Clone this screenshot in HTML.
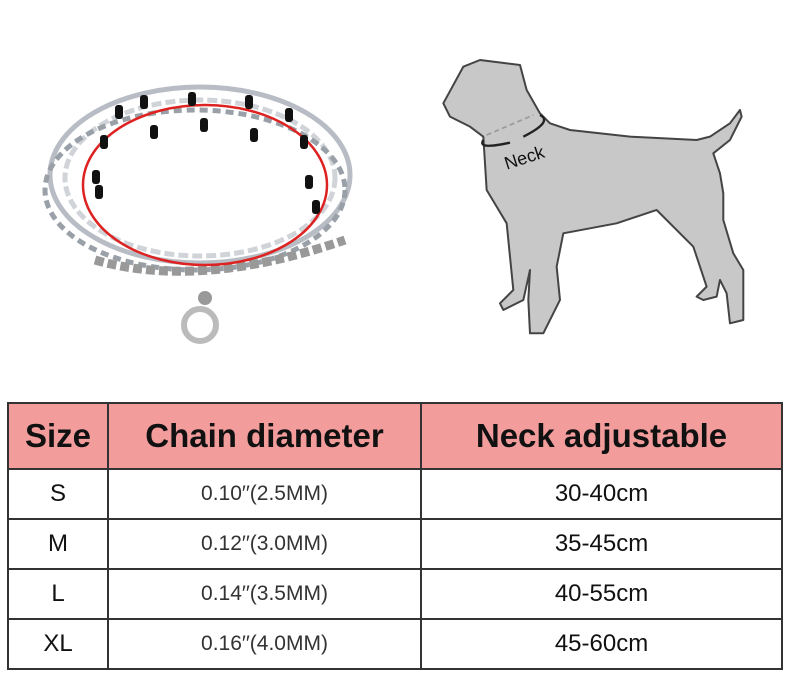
<!DOCTYPE html>
<html><head><style>
body{margin:0;width:794px;height:681px;background:#fff;overflow:hidden;position:relative;font-family:"Liberation Sans",sans-serif}
table{position:absolute;left:7px;top:402px;border-collapse:collapse;width:776px;table-layout:fixed}
td{border:2px solid #333;text-align:center;color:#111;padding:0}
tr.h td{background:#f39c9c;height:64px;font-size:33px;font-weight:bold}
tr.r td{height:48px}
td.s{font-size:24px}
td.c{font-size:21px;color:#333}
td.n{font-size:24px}
</style></head><body>
<svg width="794" height="400" style="position:absolute;left:0;top:0">
 <g fill="none" stroke="#aab" stroke-width="5">
  <ellipse cx="200" cy="175" rx="150" ry="88" stroke="#b8bcc4"/>
  <ellipse cx="200" cy="178" rx="135" ry="78" stroke="#d0d3d8" stroke-dasharray="10 4"/>
  <ellipse cx="195" cy="190" rx="150" ry="80" stroke="#9aa0a8" stroke-dasharray="8 5"/>
  <path d="M95 260 Q200 290 345 240" stroke="#999" stroke-width="9" stroke-dasharray="9 4"/>
 </g>
 <ellipse cx="205" cy="185" rx="122" ry="80" fill="none" stroke="#d22" stroke-width="2.5"/>
 <g fill="#111">
  <rect x="140" y="95" width="8" height="14" rx="3"/><rect x="188" y="92" width="8" height="14" rx="3"/>
  <rect x="245" y="95" width="8" height="14" rx="3"/><rect x="285" y="108" width="8" height="14" rx="3"/>
  <rect x="100" y="135" width="8" height="14" rx="3"/><rect x="150" y="125" width="8" height="14" rx="3"/>
  <rect x="200" y="118" width="8" height="14" rx="3"/><rect x="250" y="128" width="8" height="14" rx="3"/>
  <rect x="300" y="135" width="8" height="14" rx="3"/><rect x="92" y="170" width="8" height="14" rx="3"/>
  <rect x="95" y="185" width="8" height="14" rx="3"/><rect x="305" y="175" width="8" height="14" rx="3"/>
  <rect x="312" y="200" width="8" height="14" rx="3"/><rect x="115" y="105" width="8" height="14" rx="3"/>
 </g>
 <circle cx="200" cy="325" r="16" fill="none" stroke="#bbb" stroke-width="6"/>
 <circle cx="205" cy="298" r="7" fill="#999"/>
 <g transform="translate(430,40) scale(0.3333)">
  <path d="M40 190 L100 80 L150 60 L270 75 L290 150 L330 220 L360 250 L420 270 L600 290 L800 300 L840 290 L900 250 L930 210 L935 230 L900 300 L850 340 L870 400 L880 460 L880 540 L910 640 L940 690 L940 840 L900 850 L890 760 L870 720 L860 770 L820 780 L800 770 L830 740 L790 620 L680 510 L560 550 L400 580 L380 680 L390 780 L340 880 L300 880 L295 780 L300 690 L280 780 L220 810 L210 790 L250 750 L240 650 L230 550 L170 450 L160 290 L120 260 L60 230 Z" fill="#c8c8c8" stroke="#444" stroke-width="6" stroke-linejoin="round"/>
  <path d="M170 285 L310 225" stroke="#999" stroke-width="5" stroke-dasharray="15 10"/>
  <path d="M160 300 Q140 330 240 308" fill="none" stroke="#222" stroke-width="7"/>
  <path d="M330 225 Q370 245 280 290" fill="none" stroke="#222" stroke-width="7"/>
  <text x="220" y="375" font-size="54" font-family="Liberation Sans" fill="#111" transform="rotate(-18 270 350)">Neck</text>
 </g>
</svg>
<table>
<colgroup><col style="width:100px"><col style="width:313px"><col></colgroup>
<tr class="h"><td>Size</td><td>Chain diameter</td><td>Neck adjustable</td></tr>
<tr class="r"><td class="s">S</td><td class="c">0.10′′(2.5MM)</td><td class="n">30-40cm</td></tr>
<tr class="r"><td class="s">M</td><td class="c">0.12′′(3.0MM)</td><td class="n">35-45cm</td></tr>
<tr class="r"><td class="s">L</td><td class="c">0.14′′(3.5MM)</td><td class="n">40-55cm</td></tr>
<tr class="r"><td class="s">XL</td><td class="c">0.16′′(4.0MM)</td><td class="n">45-60cm</td></tr>
</table>
</body></html>
